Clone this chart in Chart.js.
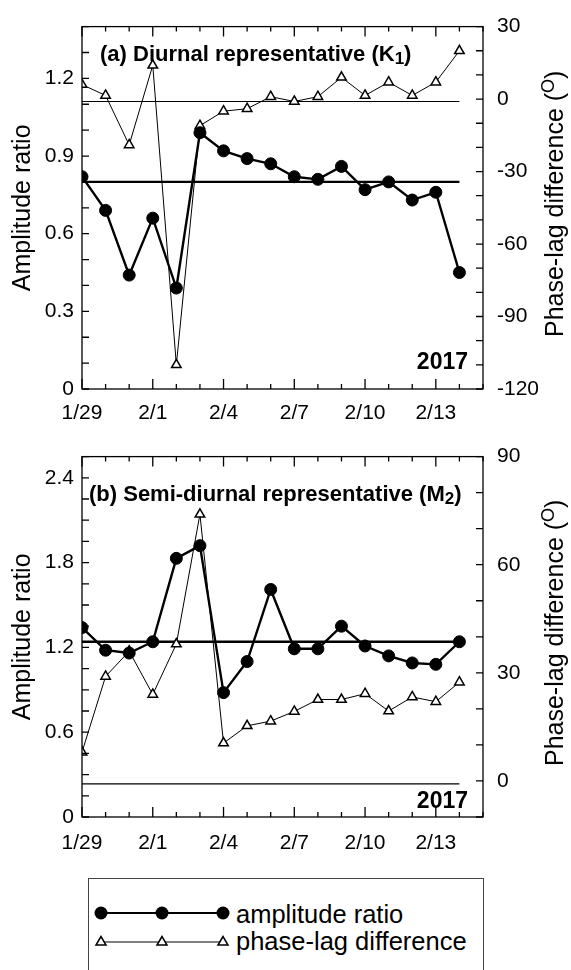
<!DOCTYPE html>
<html>
<head>
<meta charset="utf-8">
<script src="https://cdn.jsdelivr.net/npm/chart.js@4"></script>
<style>
  body { margin: 0; background: #fff; width: 571px; height: 970px; position: relative; overflow: hidden; font-family: "Liberation Sans", Arial, sans-serif; }
  canvas { position: absolute; left: 0; }
  #chartA { top: 0; }
  #chartB { top: 430px; }
  .leyenda { position: absolute; left: 88px; top: 878px; width: 394px; height: 120px; border: 1px solid #444; }
  .fila { position: absolute; left: 0; width: 394px; height: 26px; }
  .fila svg { position: absolute; left: 4px; top: 3px; }
  .fila span { position: absolute; left: 147px; top: -1px; font-size: 25.5px; line-height: 30px; color: #000; }
</style>
</head>
<body>
<canvas id="chartA" width="571" height="430"></canvas>
<canvas id="chartB" width="571" height="430"></canvas>
<div class="leyenda">
  <div class="fila" style="top: 21px;">
    <svg width="140" height="20"><line x1="8" y1="10" x2="130" y2="10" stroke="#000" stroke-width="2.2"/><circle cx="8" cy="10" r="6.5"/><circle cx="69" cy="10" r="6.5"/><circle cx="130" cy="10" r="6.5"/></svg>
    <span>amplitude ratio</span>
  </div>
  <div class="fila" style="top: 48px;">
    <svg width="140" height="20"><line x1="8" y1="12" x2="130" y2="12" stroke="#000" stroke-width="1"/><polygon points="8,6.5 3,15 13,15" fill="#fff" stroke="#000" stroke-width="1.5"/><polygon points="69,6.5 64,15 74,15" fill="#fff" stroke="#000" stroke-width="1.5"/><polygon points="130,6.5 125,15 135,15" fill="#fff" stroke="#000" stroke-width="1.5"/></svg>
    <span>phase-lag difference</span>
  </div>
</div>
<script>
// dias del 29 de enero al 14 de febrero de 2017
const dias = ["1/29", "1/30", "1/31", "2/1", "2/2", "2/3", "2/4", "2/5", "2/6", "2/7", "2/8", "2/9", "2/10", "2/11", "2/12", "2/13", "2/14"];
const diasConEtiqueta = ["1/29", "2/1", "2/4", "2/7", "2/10", "2/13"];

// (a) K1
const amplitudK1 = [0.82, 0.69, 0.44, 0.66, 0.39, 0.99, 0.92, 0.89, 0.87, 0.82, 0.81, 0.86, 0.77, 0.80, 0.73, 0.76, 0.45];
const faseK1 = [6, 1.5, -19, 14, -110, -11, -5, -4, 1, -1, 1, 9, 1.5, 7, 1.5, 7, 20];
const mediaAmplitudK1 = 0.80;
const lineaFaseK1 = -1;

// (b) M2
const amplitudM2 = [1.34, 1.18, 1.16, 1.24, 1.83, 1.92, 0.88, 1.10, 1.61, 1.19, 1.19, 1.35, 1.21, 1.14, 1.09, 1.08, 1.24];
const faseM2 = [8, 29, 36, 24, 38, 74, 10.5, 15.3, 16.6, 19.3, 22.6, 22.6, 24.2, 19.4, 23.3, 22, 27.4];
const mediaAmplitudM2 = 1.24;
const lineaFaseM2 = -0.8;

const FUENTE = "Liberation Sans, Arial, sans-serif";

function puntos(valores) {
  return valores.map((v, i) => ({ x: i, y: v }));
}

function lineaHorizontal(valor) {
  return [{ x: 0, y: valor }, { x: dias.length - 1, y: valor }];
}

// marcas hacia adentro, marco y textos
const decoracion = {
  id: "decoracion",
  afterDraw(chart, args, opts) {
    const ctx = chart.ctx;
    const a = chart.chartArea;
    const sx = chart.scales.x, sy = chart.scales.y, sy2 = chart.scales.y2;
    ctx.save();
    ctx.strokeStyle = "#000";
    ctx.lineWidth = 1.3;
    ctx.strokeRect(a.left, a.top, a.right - a.left, a.bottom - a.top);

    ctx.beginPath();
    for (let i = 0; i <= dias.length; i++) {
      const px = sx.getPixelForValue(i);
      const largo = (i % 3 === 0) ? 10 : 5;
      ctx.moveTo(px, a.bottom); ctx.lineTo(px, a.bottom - largo);
      ctx.moveTo(px, a.top); ctx.lineTo(px, a.top + largo);
    }
    for (let v = 0; v <= opts.maxIzq + 1e-6; v += opts.menorIzq) {
      const py = sy.getPixelForValue(v);
      ctx.moveTo(a.left, py); ctx.lineTo(a.left + 7, py);
    }
    for (let v = opts.minDer; v <= opts.maxDer + 1e-6; v += 10) {
      const py = sy2.getPixelForValue(v);
      ctx.moveTo(a.right, py); ctx.lineTo(a.right - 7, py);
    }
    ctx.stroke();

    // titulo del panel con subindice
    ctx.fillStyle = "#000";
    ctx.textBaseline = "middle";
    ctx.font = "bold 22px " + FUENTE;
    let x = opts.tituloX;
    const y = a.top + opts.tituloDy;
    ctx.textAlign = "left";
    ctx.fillText(opts.titulo, x, y);
    x += ctx.measureText(opts.titulo).width;
    ctx.font = "bold 17px " + FUENTE;
    ctx.fillText(opts.sub, x, y + 5);
    x += ctx.measureText(opts.sub).width;
    ctx.font = "bold 22px " + FUENTE;
    ctx.fillText(")", x, y);

    ctx.font = "bold 23px " + FUENTE;
    ctx.textAlign = "right";
    ctx.fillText("2017", a.right - 15, a.bottom - opts.anioDy);

    // titulos de ejes
    const cy = (a.top + a.bottom) / 2;
    ctx.font = "25px " + FUENTE;
    ctx.save();
    ctx.translate(23, cy);
    ctx.rotate(-Math.PI / 2);
    ctx.textAlign = "center";
    ctx.fillText("Amplitude ratio", 0, 0);
    ctx.restore();

    ctx.save();
    ctx.translate(556, cy - 4);
    ctx.rotate(-Math.PI / 2);
    const t1 = "Phase-lag difference (";
    ctx.font = "25px " + FUENTE;
    const w1 = ctx.measureText(t1).width;
    ctx.font = "18px " + FUENTE;
    const w2 = ctx.measureText("O").width;
    ctx.font = "25px " + FUENTE;
    const w3 = ctx.measureText(")").width;
    let tx = -(w1 + w2 + w3) / 2;
    ctx.textAlign = "left";
    ctx.fillText(t1, tx, 0);
    tx += w1;
    ctx.font = "18px " + FUENTE;
    ctx.fillText("O", tx, -7);
    tx += w2;
    ctx.font = "25px " + FUENTE;
    ctx.fillText(")", tx, 0);
    ctx.restore();
    ctx.restore();
  }
};

function crearPanel(id, amp, fase, mediaAmp, lineaFase, ejes, textos) {
  new Chart(document.getElementById(id).getContext("2d"), {
    type: "line",
    data: {
      datasets: [
        {
          label: "amplitude ratio",
          data: puntos(amp),
          yAxisID: "y",
          borderColor: "#000",
          borderWidth: 2.4,
          pointStyle: "circle",
          pointRadius: 6,
          pointBorderWidth: 1,
          pointBackgroundColor: "#000",
          pointBorderColor: "#000",
          tension: 0,
          order: 1
        },
        {
          label: "phase-lag difference",
          data: puntos(fase),
          yAxisID: "y2",
          borderColor: "#000",
          borderWidth: 1,
          pointStyle: "triangle",
          pointRadius: 5.5,
          pointBackgroundColor: "#fff",
          pointBorderColor: "#000",
          pointBorderWidth: 1.5,
          tension: 0,
          order: 2
        },
        {
          label: "media amplitud",
          data: lineaHorizontal(mediaAmp),
          yAxisID: "y",
          borderColor: "#000",
          borderWidth: 2.4,
          pointRadius: 0,
          order: 3
        },
        {
          label: "fase cero",
          data: lineaHorizontal(lineaFase),
          yAxisID: "y2",
          borderColor: "#000",
          borderWidth: 1.2,
          pointRadius: 0,
          order: 4
        }
      ]
    },
    options: {
      responsive: false,
      animation: false,
      layout: { padding: { top: ejes.arriba, left: 0, right: 0, bottom: 0 } },
      plugins: {
        legend: { display: false },
        tooltip: { enabled: false },
        decoracion: textos
      },
      scales: {
        x: {
          type: "linear",
          min: 0,
          max: dias.length,
          grid: { display: false, drawTicks: false },
          border: { display: false },
          afterFit: s => { s.height = ejes.altoX; },
          afterBuildTicks: s => { s.ticks = dias.map((d, i) => ({ value: i })).filter(t => diasConEtiqueta.includes(dias[t.value])); },
          ticks: {
            autoSkip: false,
            maxRotation: 0,
            padding: ejes.padX,
            color: "#000",
            font: { family: FUENTE, size: 21 },
            callback: v => dias[v]
          }
        },
        y: {
          position: "left",
          min: 0,
          max: ejes.maxIzq,
          grid: { display: false, drawTicks: false },
          border: { display: false },
          afterFit: s => { s.width = 82; },
          afterBuildTicks: s => { s.ticks = ejes.ticksIzq.map(v => ({ value: v })); },
          ticks: {
            padding: 8,
            color: "#000",
            font: { family: FUENTE, size: 21 },
            callback: v => v === 0 ? "0" : v.toFixed(1)
          }
        },
        y2: {
          position: "right",
          min: ejes.minDer,
          max: ejes.maxDer,
          grid: { display: false, drawTicks: false },
          border: { display: false },
          afterFit: s => { s.width = 88; },
          afterBuildTicks: s => { s.ticks = ejes.ticksDer.map(v => ({ value: v })); },
          ticks: {
            padding: 14,
            color: "#000",
            font: { family: FUENTE, size: 21 },
            callback: v => String(v)
          }
        }
      }
    },
    plugins: [decoracion]
  });
}

crearPanel("chartA", amplitudK1, faseK1, mediaAmplitudK1, lineaFaseK1,
  { arriba: 22, altoX: 41, padX: 12, maxIzq: 1.4, minDer: -120, maxDer: 30,
    ticksIzq: [0, 0.3, 0.6, 0.9, 1.2], ticksDer: [-120, -90, -60, -30, 0, 30] },
  { titulo: "(a) Diurnal representative (K", sub: "1", tituloX: 100, tituloDy: 28, anioDy: 26,
    maxIzq: 1.4, menorIzq: 0.1, minDer: -120, maxDer: 30 });

crearPanel("chartB", amplitudM2, faseM2, mediaAmplitudM2, lineaFaseM2,
  { arriba: 25, altoX: 43, padX: 14, maxIzq: 2.55, minDer: -10, maxDer: 90,
    ticksIzq: [0, 0.6, 1.2, 1.8, 2.4], ticksDer: [0, 30, 60, 90] },
  { titulo: "(b) Semi-diurnal representative (M", sub: "2", tituloX: 89, tituloDy: 38, anioDy: 15,
    maxIzq: 2.55, menorIzq: 0.15, minDer: -10, maxDer: 90 });
</script>
</body>
</html>
